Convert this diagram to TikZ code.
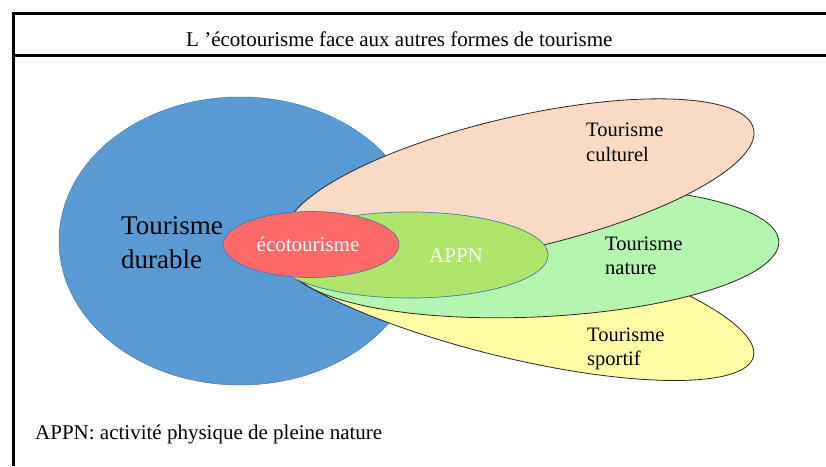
\documentclass[tikz,border=0pt]{standalone}
\usepackage{fontspec}
\setmainfont{Liberation Serif}
\definecolor{durableblue}{HTML}{5B9BD5}
\definecolor{outlineblue}{HTML}{4A78A8}
\definecolor{peach}{HTML}{F9DAC5}
\definecolor{lightgreen}{HTML}{B4F5B0}
\definecolor{paleyellow}{HTML}{FFFDA6}
\definecolor{appngreen}{HTML}{AFE56B}
\definecolor{ecored}{HTML}{FF6969}
\begin{document}
\begin{tikzpicture}[x=1pt,y=-1pt,
  frameline/.style={line width=3pt, black},
  outerblob/.style={draw=black!85, line width=0.8pt},
  innerblob/.style={draw=outlineblue, line width=0.7pt},
  lab/.style={inner sep=0pt, anchor=base west, font=\fontsize{20.5}{24}\selectfont},
  biglab/.style={inner sep=0pt, anchor=base west, font=\fontsize{27}{31}\selectfont},
  whitelab/.style={inner sep=0pt, anchor=base, text=white, font=\fontsize{21}{25}\selectfont},
  plain/.style={inner sep=0pt, anchor=base west, font=\fontsize{21}{25}\selectfont}]
\useasboundingbox (0,0) rectangle (826,466);
\fill[white] (0,0) rectangle (826,466);

% frame
\coordinate (tl) at (13,13);
\coordinate (tr) at (826,13);
\coordinate (bl) at (13,466);
\coordinate (sl) at (13,55);
\coordinate (sr) at (826,55);
\draw[frameline] (tr) -- (tl) -- (bl);
\draw[frameline] (sl) -- (sr);

% shapes
\fill[durableblue, draw=outlineblue, line width=0.5pt] (240,241) ellipse [x radius=181, y radius=144];
\filldraw[fill=paleyellow, outerblob, shift={(506,295)}, rotate=-14] (0,0) ellipse [x radius=255, y radius=61];
\filldraw[fill=lightgreen, outerblob, shift={(534,252)}, rotate=2.5] (0,0) ellipse [x radius=245, y radius=65];
\filldraw[fill=peach, outerblob, shift={(519.7,182.8)}, rotate=13] (0,0) ellipse [x radius=240, y radius=66];
\filldraw[fill=appngreen, innerblob] (410,255) ellipse [x radius=138, y radius=43];
\filldraw[fill=ecored, innerblob] (311,244.5) ellipse [x radius=88, y radius=33];

% texts
\node[plain] (title) at (186,46) {L ’écotourisme face aux autres formes de tourisme};
\node[plain] (note) at (35,439) {APPN: activité physique de pleine nature};

\node[biglab] (dur1) at (121,234) {Tourisme};
\node[biglab] (dur2) at (121,268) {durable};
\node[lab] (cul1) at (586,136) {Tourisme};
\node[lab] (cul2) at (586,161) {culturel};
\node[lab] (nat1) at (605,250) {Tourisme};
\node[lab] (nat2) at (605,274) {nature};
\node[lab] (spo1) at (587,341) {Tourisme};
\node[lab] (spo2) at (587,365) {sportif};
\node[whitelab] (eco) at (308,251) {écotourisme};
\node[whitelab] (appn) at (456,262) {APPN};
\end{tikzpicture}
\end{document}
